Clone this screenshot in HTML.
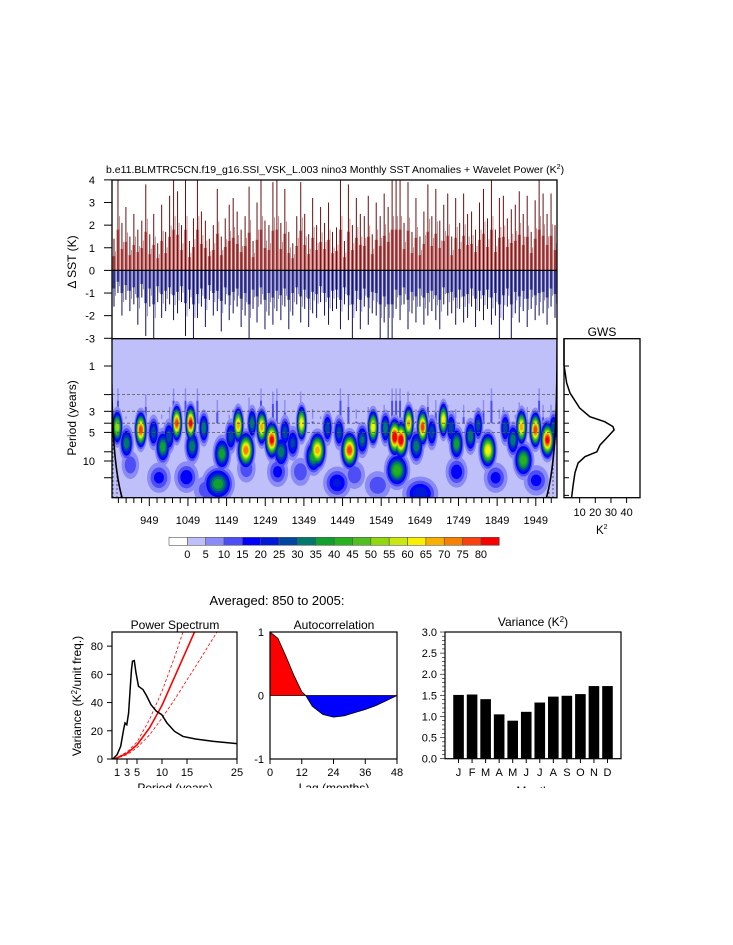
<!DOCTYPE html>
<html><head><meta charset="utf-8">
<style>
html,body{margin:0;padding:0;background:#fff;}
svg{display:block;font-family:"Liberation Sans",sans-serif;}
</style></head>
<body>
<svg id="fig" width="733" height="945" viewBox="0 0 733 945" xmlns="http://www.w3.org/2000/svg">
<defs>
<clipPath id="wclip"><rect x="112" y="338.7" width="445" height="159"/></clipPath>
<clipPath id="tclip"><rect x="112" y="180" width="445" height="158.7"/></clipPath>
<clipPath id="pclip"><rect x="112" y="632" width="125" height="127"/></clipPath>
<pattern id="dots" width="4" height="4" patternUnits="userSpaceOnUse"><circle cx="1" cy="1" r="0.6" fill="#000"/></pattern>
</defs>
<text x="106" y="173" font-size="10.5">b.e11.BLMTRC5CN.f19_g16.SSI_VSK_L.003 nino3 Monthly SST Anomalies + Wavelet Power (K<tspan font-size="7" dy="-4">2</tspan><tspan dy="4">)</tspan></text>
<g id="ts"></g>
<g id="wav"></g>
<g id="gws"></g>
<g id="cbar"></g>
<text x="277" y="605" font-size="13" text-anchor="middle">Averaged: 850 to 2005:</text>
<g id="ps"></g>
<g id="ac"></g>
<g id="vr"></g>
</svg>
<script>
// ---- data ----
const sstPos = [1.4,4,2.1,2.8,1.5,2.5,1.8,2.2,3.8,1.6,2.5,1.2,2.9,1.7,3.3,4,3.5,2.0,4,1.3,2.3,4,2.6,2.2,1.4,2.0,3.6,1.5,2.3,2.9,3.2,2.6,1.8,2.4,3.7,1.3,3.0,4,2.2,2.0,3.9,4,2.1,3.6,1.7,1.2,2.4,3.9,2.5,1.6,3.2,2.0,2.8,2.1,3.0,1.7,1.9,4,1.3,3.8,2.0,3.2,2.5,2.4,3.3,1.6,3.0,2.4,3.4,2.8,4,4,4,2.1,3.9,1.7,3.2,1.5,2.6,3.8,2.4,3.6,2.2,2.9,3.4,1.5,3.2,2.1,3.4,2.5,2.6,1.8,3.0,3.6,2.3,4,1.8,3.2,3.3,2.3,2.7,2.9,3.5,2.5,3.3,1.7,3.1,4,3.4,2.5,3.4,2.0];
const sstNeg = [1.6,1.0,2.0,1.3,1.8,1.5,2.4,1.2,2.9,1.6,3.0,1.4,2.1,1.8,1.5,2.2,1.9,1.4,2.9,1.7,3.0,2.1,1.6,2.5,1.3,2.0,1.8,2.7,1.5,2.2,1.9,1.6,2.5,2.0,3.0,1.7,2.3,1.5,2.6,2.0,2.4,1.8,2.2,1.6,2.6,2.0,1.5,2.3,1.7,2.5,1.9,2.1,1.4,2.0,2.4,1.8,1.7,2.6,1.5,2.2,3.0,1.8,2.6,1.6,2.4,1.9,2.0,3.0,2.3,3.0,3.0,1.7,2.2,1.5,2.6,1.9,2.3,1.6,2.4,2.0,1.8,2.2,2.6,1.5,2.0,1.9,2.4,1.7,2.3,2.1,1.6,2.5,1.8,2.2,1.7,2.4,2.0,3.0,2.2,1.6,3.0,1.9,2.3,1.8,2.5,1.7,2.2,2.0,1.9,2.4,1.6,2.1];
const blobYears  = [866,927,1020,1056,1179,1199,1240,1266,1343,1384,1467,1528,1584,1600,1620,1656,1710,1825,1912,1948,1979, 1127,1590,1917,1374,984,1137,1744,1290,1060, 890,960,1000,1090,1160,1215,1300,1320,1410,1500,1560,1680,1730,1780,1800,1870,1890,1995,1640,1440, 1045,1435,1650,974,1281,1744,1845,1540,1200,900,1950,1100,1340,1480];
const blobPeriods= [4.4,4.7,4.0,4.0,4.2,7.7,4.4,6.0,4.0,7.7,7.7,4.4,5.6,6.0,4.0,4.4,3.7,7.7,4.4,4.7,6.0, 17.4,12.5,9.8,9.0,7.1,8.4,6.6,8.0,7.0, 6.5,5.0,5.5,4.5,5.5,4.0,5.0,6.5,4.5,6.0,4.5,5.0,4.5,5.5,4.2,4.5,6.0,4.5,7.0,5.0, 14.8,17,22,15,13,13,15,18,12,11,16,20,13,14];
const blobPowers = [55,80,80,85,70,75,70,85,65,70,80,65,90,90,70,80,65,65,70,80,85, 40,45,45,40,40,40,40,35,35, 35,30,30,35,30,35,30,28,30,32,35,30,30,35,30,30,35,30,35,30, 20,22,25,18,18,20,18,15,15,15,18,15,15,15];
const levels = [0,5,10,15,20,25,30,35,40,45,50,55,60,65,70,75,80];
const levelColors = ["#ffffff","#bfc0fa","#8a8bf7","#4d4ef6","#0000ff","#0018d8","#0046a0","#00786b","#10a030","#28b020","#50c020","#90d810","#c8e810","#f8f000","#f8b000","#f88000","#f84010","#f80000"];
const gwsPeriods = [0.5,0.98,1.51,1.92,2.77,3.42,3.86,4.35,4.71,5.55,6.8,8.0,9.0,10.5,13.3,18.1,23.9];
const gwsValues  = [0,0,1.7,3.8,10,16.5,26,31.3,32,28,23,21,13.4,9,7,5.8,4.9];
const psPeriods = [0.18,1.03,1.74,2.32,2.6,2.96,3.32,3.67,3.9,4.1,4.46,4.8,5.3,6.2,6.9,7.8,8.9,9.96,11,12.5,14.2,16.7,20.3,25];
const psValues  = [0,3.1,9,20.8,25.5,24.3,32.6,51.5,63.4,69.3,69.7,61,51.5,49.2,44.9,38.5,33.8,31.4,25.5,19.6,16,14.2,12.5,10.9];
const redPeriods = [0.5,3,5,7.5,10,12.5,15,16.5];
const redValues  = [0,4,10,22,38,58,78,90];
const hiPeriods = [0.5,3,5,7.5,10,12.5,14.2];
const hiValues  = [0,5,12,28,48,72,90];
const loPeriods = [0.5,3,5,7.5,10,12.5,15,17.5,21];
const loValues  = [0,3,8,17,29,42,56,70,90];
const acLags = [0,3,6,9,12,13.5,16,20,24,28,32,36,40,44,48];
const acVals = [1,0.9,0.62,0.32,0.06,0,-0.17,-0.3,-0.34,-0.32,-0.27,-0.22,-0.16,-0.08,0];
const months = ["J","F","M","A","M","J","J","A","S","O","N","D"];
const monthVar = [1.51,1.52,1.41,1.05,0.90,1.11,1.33,1.47,1.49,1.53,1.72,1.72];
const yearTicks = [949,1049,1149,1249,1349,1449,1549,1649,1749,1849,1949];
const periodTicks = [1,3,5,10];
const dashPeriods = [2,3,4,5];

const NS="http://www.w3.org/2000/svg";
function mk(parent,tag,attrs,text){const e=document.createElementNS(NS,tag);for(const k in attrs)e.setAttribute(k,attrs[k]);if(text!==undefined)e.textContent=text;parent.appendChild(e);return e;}

// ---- top time series ----
const ts=document.getElementById('ts');
const yT=v=>270.4-v*22.63;
const tg=mk(ts,'g',{'clip-path':'url(#tclip)'});
const bw=445/sstPos.length;
sstPos.forEach((v,i)=>{const x=112+(i+0.5)*bw;
 const r=mk(tg,'rect',{x:x-1.4,y:yT(v*0.45),width:2.8,height:yT(0)-yT(v*0.45),fill:'#b83030','fill-opacity':0.75});
 
 const l=mk(tg,'line',{x1:x,x2:x,y1:yT(0),y2:yT(v),stroke:'#6a1010','stroke-width':1});
 
 const l2=mk(tg,'line',{x1:x+1.5,x2:x+1.5,y1:yT(0),y2:yT(v*0.6),stroke:'#b06060','stroke-width':0.7});
 });
const bn=445/sstNeg.length;
sstNeg.forEach((v,i)=>{const x=112+(i+0.5)*bn;
 const r=mk(tg,'rect',{x:x-1.4,y:yT(0),width:2.8,height:yT(-v*0.5)-yT(0),fill:'#2a2a98','fill-opacity':0.8});
 
 const l=mk(tg,'line',{x1:x,x2:x,y1:yT(0),y2:yT(-v),stroke:'#101060','stroke-width':1});
 
 const l2=mk(tg,'line',{x1:x+1.5,x2:x+1.5,y1:yT(0),y2:yT(-v*0.7),stroke:'#6060b8','stroke-width':0.7});
 });
mk(ts,'line',{x1:112,x2:557,y1:yT(0),y2:yT(0),stroke:'#000','stroke-width':1.2});
mk(ts,'rect',{x:112,y:180,width:445,height:158.7,fill:'none',stroke:'#000','stroke-width':1.3});
for(let v=-3;v<=4;v++){mk(ts,'line',{x1:104,x2:112,y1:yT(v),y2:yT(v),stroke:'#000'});
 const t=mk(ts,'text',{x:95,y:yT(v)+4,'font-size':11,'text-anchor':'end'},String(v));
 }
const yl=mk(ts,'text',{x:0,y:0,'font-size':12,'text-anchor':'middle',transform:'translate(76,262) rotate(-90)'},'Δ SST (K)');


// ---- wavelet ----
const wav=document.getElementById('wav');
const xs=y=>149.3+(y-949)*0.3865;
const yp=p=>366+95*Math.log10(p);
const wg=mk(wav,'g',{'clip-path':'url(#wclip)'});
mk(wg,'rect',{x:112,y:338.7,width:445,height:159,fill:levelColors[1]});
sstPos.forEach((v,i)=>{if(v>=2.8){const x=112+(i+0.5)*bw;
 const top=3.4-(v-2.8)*1.4;
 const s=mk(wg,'rect',{x:x-0.7,y:yp(top),width:1.4,height:yp(3.6)-yp(top),fill:'#8a8bf7'});
 
 const s2=mk(wg,'rect',{x:x-1,y:yp(top*1.35),width:2,height:yp(4)-yp(top*1.35),fill:'#4d4ef6'});
 }});
for(let k=1;k<levels.length;k++){
 blobYears.forEach((yr,i)=>{const P=blobPowers[i];const L=levels[k];if(P<=L)return;
  const f=Math.sqrt(2*Math.log(P/L));const p=blobPeriods[i];
  const rx=(1.8*Math.pow(p,0.85)*f)*0.3865+0.8;const ry=0.1*f*95;
  const e=mk(wg,'ellipse',{cx:xs(yr),cy:yp(p),rx:rx,ry:ry,fill:levelColors[k+1]});
  });}
dashPeriods.forEach(p=>{const d=mk(wg,'line',{x1:112,x2:557,y1:yp(p),y2:yp(p),stroke:'#555','stroke-width':0.8,'stroke-dasharray':'3,2'});
 });
let lp=[],rp=[];for(let p=0.5;p<=24.5;p+=0.5){lp.push([xs(850+1.17*p),yp(p)]);rp.push([xs(2005-1.17*p),yp(p)]);}
const lpath='M'+lp.map(a=>a.join(',')).join('L');const rpath='M'+rp.map(a=>a.join(',')).join('L');
mk(wg,'path',{d:lpath+'L112,500L112,338Z',fill:'url(#dots)'});
mk(wg,'path',{d:rpath+'L557,500L557,338Z',fill:'url(#dots)'});
const c1=mk(wg,'path',{d:lpath,fill:'none',stroke:'#000','stroke-width':1.6});
const c2=mk(wg,'path',{d:rpath,fill:'none',stroke:'#000','stroke-width':1.6});
mk(wav,'rect',{x:112,y:338.7,width:445,height:159,fill:'none',stroke:'#000','stroke-width':1.3});
[1,2,3,4,5,8,10,15].forEach(p=>mk(wav,'line',{x1:104,x2:112,y1:yp(p),y2:yp(p),stroke:'#000'}));
periodTicks.forEach(p=>{const t=mk(wav,'text',{x:95,y:yp(p)+4,'font-size':11,'text-anchor':'end'},String(p));
 });
for(let y=869;y<=2005;y+=20){const maj=yearTicks.includes(y);mk(wav,'line',{x1:xs(y),x2:xs(y),y1:497.7,y2:maj?506:503,stroke:'#000'});}
yearTicks.forEach(y=>{const t=mk(wav,'text',{x:xs(y),y:524,'font-size':11,'text-anchor':'middle'},String(y));
 });
const pl=mk(wav,'text',{x:0,y:0,'font-size':12,'text-anchor':'middle',transform:'translate(76,418) rotate(-90)'},'Period (years)');


// ---- GWS ----
const gws=document.getElementById('gws');
const xg=v=>564+v*1.565;
mk(gws,'rect',{x:564,y:338.7,width:76,height:159,fill:'#fff',stroke:'#000','stroke-width':1.3});
const gd='M'+gwsPeriods.map((p,i)=>xg(gwsValues[i])+','+Math.max(338.7,yp(p))).join('L');
const gl=mk(gws,'path',{d:gd,fill:'none',stroke:'#000','stroke-width':1.5});
[1,2,3,4,5,8,10,15,23].forEach(p=>mk(gws,'line',{x1:564,x2:569,y1:yp(p),y2:yp(p),stroke:'#000'}));
[10,20,30,40].forEach(v=>{mk(gws,'line',{x1:xg(v),x2:xg(v),y1:497.7,y2:503,stroke:'#000'});
 const t=mk(gws,'text',{x:xg(v),y:516,'font-size':11,'text-anchor':'middle'},String(v));});
const gt=mk(gws,'text',{x:602,y:336,'font-size':12,'text-anchor':'middle'},'GWS');
const gk=mk(gws,'text',{x:596,y:534,'font-size':11.5},'');
gk.innerHTML='K<tspan font-size="7" dy="-5">2</tspan>';


// ---- colorbar ----
const cb=document.getElementById('cbar');
levelColors.forEach((c,i)=>{const r=mk(cb,'rect',{x:169+i*18.35,y:537.3,width:18.35,height:8,fill:c,stroke:'#555','stroke-width':0.6});
 });
levels.forEach((l,i)=>{const t=mk(cb,'text',{x:169+(i+1)*18.35,y:558,'font-size':11,'text-anchor':'middle'},String(l));
 });

// ---- power spectrum ----
const ps=document.getElementById('ps');
const xP=p=>112+5*p, yP=v=>759-v*1.411;
const pg=mk(ps,'g',{'clip-path':'url(#pclip)'});
const line=(xa,ya,fx,fy)=>'M'+xa.map((x,i)=>fx(x)+','+fy(ya[i])).join('L');
const rl1=mk(pg,'path',{d:line(hiPeriods,hiValues,xP,yP),fill:'none',stroke:'#f00','stroke-width':0.8,'stroke-dasharray':'3,2'});
const rl2=mk(pg,'path',{d:line(loPeriods,loValues,xP,yP),fill:'none',stroke:'#f00','stroke-width':0.8,'stroke-dasharray':'3,2'});
const rl=mk(pg,'path',{d:line(redPeriods,redValues,xP,yP),fill:'none',stroke:'#f00','stroke-width':1.6});
const bl=mk(pg,'path',{d:line(psPeriods,psValues,xP,yP),fill:'none',stroke:'#000','stroke-width':1.5});
mk(ps,'rect',{x:112,y:632,width:125,height:127,fill:'none',stroke:'#000','stroke-width':1.2});
[0,20,40,60,80].forEach(v=>{mk(ps,'line',{x1:107,x2:112,y1:yP(v),y2:yP(v),stroke:'#000'});
 const t=mk(ps,'text',{x:103,y:yP(v)+4,'font-size':11,'text-anchor':'end'},String(v));});
[1,3,5,10,15,25].forEach(p=>{mk(ps,'line',{x1:xP(p),x2:xP(p),y1:759,y2:764,stroke:'#000'});
 const t=mk(ps,'text',{x:xP(p),y:776,'font-size':11,'text-anchor':'middle'},String(p));});
const pst=mk(ps,'text',{x:175,y:629,'font-size':12,'text-anchor':'middle'},'Power Spectrum');
const psx=mk(ps,'text',{x:175,y:792,'font-size':12,'text-anchor':'middle'},'Period (years)');
const psy=mk(ps,'text',{x:0,y:0,'font-size':12,'text-anchor':'middle',transform:'translate(81,696) rotate(-90)'},'');
psy.innerHTML='Variance (K<tspan font-size="8" dy="-4">2</tspan><tspan dy="4">/unit freq.)</tspan>';


// ---- autocorrelation ----
const ac=document.getElementById('ac');
const xA=l=>270+l*2.646, yA=r=>695.5-r*63.5;
let pos='M'+xA(0)+','+yA(0), neg='M'+xA(13.5)+','+yA(0);
acLags.forEach((l,i)=>{if(l<=13.5)pos+='L'+xA(l)+','+yA(acVals[i]);if(l>=13.5)neg+='L'+xA(l)+','+yA(acVals[i]);});
const ap=mk(ac,'path',{d:pos+'Z',fill:'#f00'});
const an=mk(ac,'path',{d:neg+'Z',fill:'#00f'});
const al=mk(ac,'path',{d:line(acLags,acVals,xA,yA),fill:'none',stroke:'#000','stroke-width':0.8});
mk(ac,'line',{x1:270,x2:397,y1:yA(0),y2:yA(0),stroke:'#000','stroke-width':0.8});
mk(ac,'rect',{x:270,y:632,width:127,height:127,fill:'none',stroke:'#000','stroke-width':1.2});
[1,0,-1].forEach(v=>{const t=mk(ac,'text',{x:264,y:yA(v)+4,'font-size':11,'text-anchor':'end'},String(v));});
[0,12,24,36,48].forEach(l=>{mk(ac,'line',{x1:xA(l),x2:xA(l),y1:759,y2:764,stroke:'#000'});
 const t=mk(ac,'text',{x:xA(l),y:776,'font-size':11,'text-anchor':'middle'},String(l));});
const act=mk(ac,'text',{x:334,y:629,'font-size':12,'text-anchor':'middle'},'Autocorrelation');
const acx=mk(ac,'text',{x:334,y:792,'font-size':12,'text-anchor':'middle'},'Lag (months)');

// ---- variance ----
const vr=document.getElementById('vr');
const xV=i=>445+(i+1)*13.54, yV=v=>758.7-v*42.23;
monthVar.forEach((v,i)=>{const b=mk(vr,'rect',{x:xV(i)-5.3,y:yV(v),width:10.6,height:yV(0)-yV(v),fill:'#000'});
 });
mk(vr,'rect',{x:445,y:632,width:176,height:126.7,fill:'none',stroke:'#000','stroke-width':1.2});
for(let v=0;v<=30;v++){const y=yV(v/10);mk(vr,'line',{x1:v%5?442:440,x2:445,y1:y,y2:y,stroke:'#000','stroke-width':0.6});}
[0,0.5,1,1.5,2,2.5,3].forEach(v=>{const t=mk(vr,'text',{x:437,y:yV(v)+4,'font-size':11,'text-anchor':'end'},v.toFixed(1));});
months.forEach((m,i)=>{mk(vr,'line',{x1:xV(i),x2:xV(i),y1:758.7,y2:763,stroke:'#000'});
 const t=mk(vr,'text',{x:xV(i),y:776,'font-size':11,'text-anchor':'middle'},m);});
const vt=mk(vr,'text',{x:533,y:626,'font-size':12,'text-anchor':'middle'},'');
vt.innerHTML='Variance (K<tspan font-size="8" dy="-4">2</tspan><tspan dy="4">)</tspan>';

const vx=mk(vr,'text',{x:533,y:795,'font-size':12,'text-anchor':'middle'},'Month');
mk(document.getElementById('fig'),'rect',{x:0,y:788,width:733,height:157,fill:'#fff'});
</script>
</body></html>
